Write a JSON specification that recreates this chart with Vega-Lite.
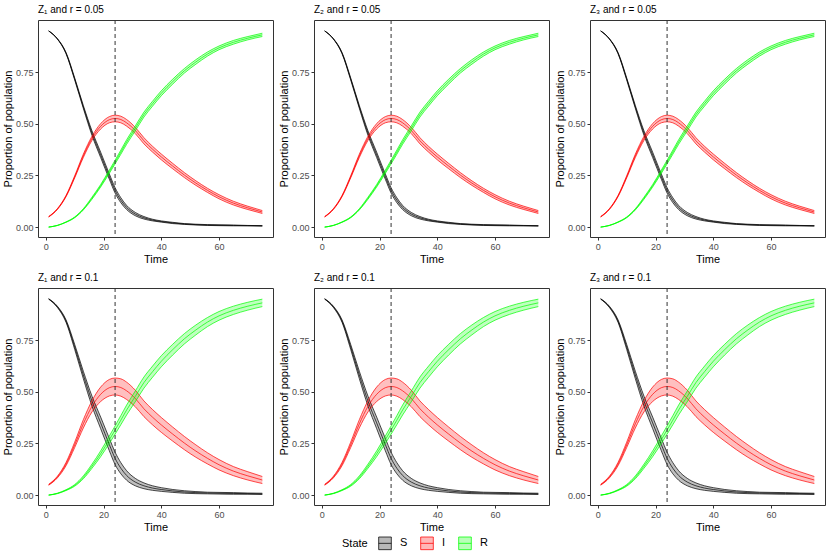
{
  "$schema": "https://vega.github.io/schema/vega-lite/v6.json",
  "background": "white",
  "padding": {"left": 1, "top": 4, "right": 3, "bottom": 2},
  "datasets": {
    "r05": [
      {"t": 1, "state": "S", "lo": 0.950, "mid": 0.950, "hi": 0.950},
      {"t": 4, "state": "S", "lo": 0.911, "mid": 0.912, "hi": 0.913},
      {"t": 7, "state": "S", "lo": 0.840, "mid": 0.843, "hi": 0.846},
      {"t": 10, "state": "S", "lo": 0.713, "mid": 0.718, "hi": 0.723},
      {"t": 13, "state": "S", "lo": 0.575, "mid": 0.582, "hi": 0.589},
      {"t": 16, "state": "S", "lo": 0.444, "mid": 0.455, "hi": 0.466},
      {"t": 19, "state": "S", "lo": 0.337, "mid": 0.350, "hi": 0.363},
      {"t": 22, "state": "S", "lo": 0.232, "mid": 0.245, "hi": 0.258},
      {"t": 24, "state": "S", "lo": 0.165, "mid": 0.178, "hi": 0.191},
      {"t": 26, "state": "S", "lo": 0.118, "mid": 0.130, "hi": 0.142},
      {"t": 28, "state": "S", "lo": 0.085, "mid": 0.095, "hi": 0.105},
      {"t": 31, "state": "S", "lo": 0.055, "mid": 0.063, "hi": 0.071},
      {"t": 34, "state": "S", "lo": 0.039, "mid": 0.045, "hi": 0.051},
      {"t": 37, "state": "S", "lo": 0.030, "mid": 0.034, "hi": 0.038},
      {"t": 40, "state": "S", "lo": 0.024, "mid": 0.027, "hi": 0.030},
      {"t": 44, "state": "S", "lo": 0.017, "mid": 0.020, "hi": 0.023},
      {"t": 48, "state": "S", "lo": 0.013, "mid": 0.015, "hi": 0.017},
      {"t": 52, "state": "S", "lo": 0.010, "mid": 0.012, "hi": 0.014},
      {"t": 56, "state": "S", "lo": 0.008, "mid": 0.010, "hi": 0.012},
      {"t": 60, "state": "S", "lo": 0.007, "mid": 0.009, "hi": 0.011},
      {"t": 65, "state": "S", "lo": 0.006, "mid": 0.008, "hi": 0.010},
      {"t": 70, "state": "S", "lo": 0.006, "mid": 0.007, "hi": 0.008},
      {"t": 75, "state": "S", "lo": 0.005, "mid": 0.006, "hi": 0.007},
      {"t": 1, "state": "I", "lo": 0.049, "mid": 0.050, "hi": 0.051},
      {"t": 4, "state": "I", "lo": 0.085, "mid": 0.087, "hi": 0.089},
      {"t": 7, "state": "I", "lo": 0.147, "mid": 0.150, "hi": 0.153},
      {"t": 10, "state": "I", "lo": 0.238, "mid": 0.243, "hi": 0.248},
      {"t": 13, "state": "I", "lo": 0.337, "mid": 0.345, "hi": 0.353},
      {"t": 16, "state": "I", "lo": 0.420, "mid": 0.430, "hi": 0.440},
      {"t": 19, "state": "I", "lo": 0.475, "mid": 0.488, "hi": 0.501},
      {"t": 22, "state": "I", "lo": 0.505, "mid": 0.520, "hi": 0.535},
      {"t": 24, "state": "I", "lo": 0.510, "mid": 0.526, "hi": 0.542},
      {"t": 26, "state": "I", "lo": 0.505, "mid": 0.521, "hi": 0.537},
      {"t": 28, "state": "I", "lo": 0.489, "mid": 0.505, "hi": 0.521},
      {"t": 31, "state": "I", "lo": 0.453, "mid": 0.468, "hi": 0.483},
      {"t": 34, "state": "I", "lo": 0.403, "mid": 0.418, "hi": 0.433},
      {"t": 37, "state": "I", "lo": 0.363, "mid": 0.377, "hi": 0.391},
      {"t": 40, "state": "I", "lo": 0.326, "mid": 0.340, "hi": 0.354},
      {"t": 44, "state": "I", "lo": 0.282, "mid": 0.295, "hi": 0.308},
      {"t": 48, "state": "I", "lo": 0.240, "mid": 0.252, "hi": 0.264},
      {"t": 52, "state": "I", "lo": 0.202, "mid": 0.213, "hi": 0.224},
      {"t": 56, "state": "I", "lo": 0.168, "mid": 0.178, "hi": 0.188},
      {"t": 60, "state": "I", "lo": 0.137, "mid": 0.147, "hi": 0.157},
      {"t": 65, "state": "I", "lo": 0.107, "mid": 0.116, "hi": 0.125},
      {"t": 70, "state": "I", "lo": 0.085, "mid": 0.093, "hi": 0.101},
      {"t": 75, "state": "I", "lo": 0.066, "mid": 0.073, "hi": 0.080},
      {"t": 1, "state": "R", "lo": 0.000, "mid": 0.000, "hi": 0.000},
      {"t": 4, "state": "R", "lo": 0.008, "mid": 0.008, "hi": 0.008},
      {"t": 7, "state": "R", "lo": 0.023, "mid": 0.024, "hi": 0.025},
      {"t": 10, "state": "R", "lo": 0.045, "mid": 0.047, "hi": 0.049},
      {"t": 13, "state": "R", "lo": 0.083, "mid": 0.086, "hi": 0.089},
      {"t": 16, "state": "R", "lo": 0.135, "mid": 0.140, "hi": 0.145},
      {"t": 19, "state": "R", "lo": 0.194, "mid": 0.200, "hi": 0.206},
      {"t": 22, "state": "R", "lo": 0.260, "mid": 0.268, "hi": 0.276},
      {"t": 24, "state": "R", "lo": 0.306, "mid": 0.315, "hi": 0.324},
      {"t": 26, "state": "R", "lo": 0.353, "mid": 0.363, "hi": 0.373},
      {"t": 28, "state": "R", "lo": 0.401, "mid": 0.412, "hi": 0.423},
      {"t": 31, "state": "R", "lo": 0.466, "mid": 0.478, "hi": 0.490},
      {"t": 34, "state": "R", "lo": 0.533, "mid": 0.545, "hi": 0.557},
      {"t": 37, "state": "R", "lo": 0.586, "mid": 0.598, "hi": 0.610},
      {"t": 40, "state": "R", "lo": 0.636, "mid": 0.648, "hi": 0.660},
      {"t": 44, "state": "R", "lo": 0.693, "mid": 0.705, "hi": 0.717},
      {"t": 48, "state": "R", "lo": 0.746, "mid": 0.757, "hi": 0.768},
      {"t": 52, "state": "R", "lo": 0.789, "mid": 0.800, "hi": 0.811},
      {"t": 56, "state": "R", "lo": 0.828, "mid": 0.838, "hi": 0.848},
      {"t": 60, "state": "R", "lo": 0.859, "mid": 0.868, "hi": 0.877},
      {"t": 65, "state": "R", "lo": 0.886, "mid": 0.895, "hi": 0.904},
      {"t": 70, "state": "R", "lo": 0.907, "mid": 0.915, "hi": 0.923},
      {"t": 75, "state": "R", "lo": 0.923, "mid": 0.931, "hi": 0.939}
    ],
    "r10": [
      {"t": 1, "state": "S", "lo": 0.949, "mid": 0.950, "hi": 0.951},
      {"t": 4, "state": "S", "lo": 0.909, "mid": 0.912, "hi": 0.915},
      {"t": 7, "state": "S", "lo": 0.837, "mid": 0.843, "hi": 0.849},
      {"t": 10, "state": "S", "lo": 0.706, "mid": 0.718, "hi": 0.730},
      {"t": 13, "state": "S", "lo": 0.564, "mid": 0.582, "hi": 0.600},
      {"t": 16, "state": "S", "lo": 0.431, "mid": 0.455, "hi": 0.479},
      {"t": 19, "state": "S", "lo": 0.322, "mid": 0.350, "hi": 0.378},
      {"t": 22, "state": "S", "lo": 0.215, "mid": 0.245, "hi": 0.275},
      {"t": 24, "state": "S", "lo": 0.148, "mid": 0.178, "hi": 0.208},
      {"t": 26, "state": "S", "lo": 0.103, "mid": 0.130, "hi": 0.157},
      {"t": 28, "state": "S", "lo": 0.072, "mid": 0.095, "hi": 0.118},
      {"t": 31, "state": "S", "lo": 0.045, "mid": 0.063, "hi": 0.081},
      {"t": 34, "state": "S", "lo": 0.031, "mid": 0.045, "hi": 0.059},
      {"t": 37, "state": "S", "lo": 0.023, "mid": 0.034, "hi": 0.045},
      {"t": 40, "state": "S", "lo": 0.018, "mid": 0.027, "hi": 0.036},
      {"t": 44, "state": "S", "lo": 0.013, "mid": 0.020, "hi": 0.027},
      {"t": 48, "state": "S", "lo": 0.009, "mid": 0.015, "hi": 0.021},
      {"t": 52, "state": "S", "lo": 0.007, "mid": 0.012, "hi": 0.017},
      {"t": 56, "state": "S", "lo": 0.006, "mid": 0.010, "hi": 0.014},
      {"t": 60, "state": "S", "lo": 0.005, "mid": 0.009, "hi": 0.013},
      {"t": 65, "state": "S", "lo": 0.004, "mid": 0.008, "hi": 0.012},
      {"t": 70, "state": "S", "lo": 0.004, "mid": 0.007, "hi": 0.010},
      {"t": 75, "state": "S", "lo": 0.003, "mid": 0.006, "hi": 0.009},
      {"t": 1, "state": "I", "lo": 0.048, "mid": 0.050, "hi": 0.052},
      {"t": 4, "state": "I", "lo": 0.083, "mid": 0.087, "hi": 0.091},
      {"t": 7, "state": "I", "lo": 0.142, "mid": 0.150, "hi": 0.158},
      {"t": 10, "state": "I", "lo": 0.230, "mid": 0.243, "hi": 0.256},
      {"t": 13, "state": "I", "lo": 0.325, "mid": 0.345, "hi": 0.365},
      {"t": 16, "state": "I", "lo": 0.403, "mid": 0.430, "hi": 0.457},
      {"t": 19, "state": "I", "lo": 0.453, "mid": 0.488, "hi": 0.523},
      {"t": 22, "state": "I", "lo": 0.480, "mid": 0.520, "hi": 0.560},
      {"t": 24, "state": "I", "lo": 0.485, "mid": 0.526, "hi": 0.567},
      {"t": 26, "state": "I", "lo": 0.479, "mid": 0.521, "hi": 0.563},
      {"t": 28, "state": "I", "lo": 0.463, "mid": 0.505, "hi": 0.547},
      {"t": 31, "state": "I", "lo": 0.428, "mid": 0.468, "hi": 0.508},
      {"t": 34, "state": "I", "lo": 0.380, "mid": 0.418, "hi": 0.456},
      {"t": 37, "state": "I", "lo": 0.340, "mid": 0.377, "hi": 0.414},
      {"t": 40, "state": "I", "lo": 0.304, "mid": 0.340, "hi": 0.376},
      {"t": 44, "state": "I", "lo": 0.261, "mid": 0.295, "hi": 0.329},
      {"t": 48, "state": "I", "lo": 0.220, "mid": 0.252, "hi": 0.284},
      {"t": 52, "state": "I", "lo": 0.183, "mid": 0.213, "hi": 0.243},
      {"t": 56, "state": "I", "lo": 0.151, "mid": 0.178, "hi": 0.205},
      {"t": 60, "state": "I", "lo": 0.122, "mid": 0.147, "hi": 0.172},
      {"t": 65, "state": "I", "lo": 0.094, "mid": 0.116, "hi": 0.138},
      {"t": 70, "state": "I", "lo": 0.073, "mid": 0.093, "hi": 0.113},
      {"t": 75, "state": "I", "lo": 0.056, "mid": 0.073, "hi": 0.090},
      {"t": 1, "state": "R", "lo": 0.000, "mid": 0.000, "hi": 0.000},
      {"t": 4, "state": "R", "lo": 0.007, "mid": 0.008, "hi": 0.009},
      {"t": 7, "state": "R", "lo": 0.022, "mid": 0.024, "hi": 0.026},
      {"t": 10, "state": "R", "lo": 0.043, "mid": 0.047, "hi": 0.051},
      {"t": 13, "state": "R", "lo": 0.079, "mid": 0.086, "hi": 0.093},
      {"t": 16, "state": "R", "lo": 0.130, "mid": 0.140, "hi": 0.150},
      {"t": 19, "state": "R", "lo": 0.186, "mid": 0.200, "hi": 0.214},
      {"t": 22, "state": "R", "lo": 0.250, "mid": 0.268, "hi": 0.286},
      {"t": 24, "state": "R", "lo": 0.295, "mid": 0.315, "hi": 0.335},
      {"t": 26, "state": "R", "lo": 0.341, "mid": 0.363, "hi": 0.385},
      {"t": 28, "state": "R", "lo": 0.388, "mid": 0.412, "hi": 0.436},
      {"t": 31, "state": "R", "lo": 0.452, "mid": 0.478, "hi": 0.504},
      {"t": 34, "state": "R", "lo": 0.518, "mid": 0.545, "hi": 0.572},
      {"t": 37, "state": "R", "lo": 0.571, "mid": 0.598, "hi": 0.625},
      {"t": 40, "state": "R", "lo": 0.621, "mid": 0.648, "hi": 0.675},
      {"t": 44, "state": "R", "lo": 0.679, "mid": 0.705, "hi": 0.731},
      {"t": 48, "state": "R", "lo": 0.732, "mid": 0.757, "hi": 0.782},
      {"t": 52, "state": "R", "lo": 0.776, "mid": 0.800, "hi": 0.824},
      {"t": 56, "state": "R", "lo": 0.816, "mid": 0.838, "hi": 0.860},
      {"t": 60, "state": "R", "lo": 0.847, "mid": 0.868, "hi": 0.889},
      {"t": 65, "state": "R", "lo": 0.875, "mid": 0.895, "hi": 0.915},
      {"t": 70, "state": "R", "lo": 0.896, "mid": 0.915, "hi": 0.934},
      {"t": 75, "state": "R", "lo": 0.913, "mid": 0.931, "hi": 0.949}
    ],
    "vline": [{"t": 24}]
  },
  "columns": 3,
  "spacing": {"column": 3, "row": 7},
  "concat": [
    {
      "title": "Z₁ and r = 0.05",
      "width": 235, "height": 217,
      "data": {"name": "r05"},
      "layer": [
        {
          "mark": {"type": "area", "fillOpacity": 0.25, "interpolate": "monotone"},
          "encoding": {
            "x": {"field": "t", "type": "quantitative", "title": "Time", "scale": {"domain": [-2.7, 78.7], "nice": false, "zero": false}, "axis": {"values": [0, 20, 40, 60]}},
            "y": {"field": "lo", "type": "quantitative", "title": "Proportion of population", "scale": {"domain": [-0.048, 1.003], "nice": false, "zero": false}, "axis": {"values": [0, 0.25, 0.5, 0.75], "format": ".2f"}},
            "y2": {"field": "hi"},
            "color": {
              "field": "state", "type": "nominal", "title": "State",
              "scale": {"domain": ["S", "I", "R"], "range": ["#000000", "#ff0000", "#00ff00"]},
              "legend": {
                "symbolType": "M-1,-1H1V1H-1ZM-1,0H1",
                "encode": {
                  "symbols": {
                    "update": {
                      "shape": {"value": "M-1,-1H1V1H-1ZM-1,0H1"},
                      "fill": {"scale": "color", "field": "value"},
                      "fillOpacity": {"value": 0.28},
                      "stroke": {"scale": "color", "field": "value"},
                      "strokeOpacity": {"value": 0.75},
                      "strokeWidth": {"value": 1},
                      "opacity": {"value": 1}
                    }
                  }
                }
              }
            }
          }
        },
        {
          "transform": [{"fold": ["lo", "mid", "hi"], "as": ["k", "v"]}],
          "mark": {"type": "line", "strokeWidth": 0.7, "interpolate": "monotone"},
          "encoding": {
            "x": {"field": "t", "type": "quantitative"},
            "y": {"field": "v", "type": "quantitative"},
            "color": {"field": "state", "type": "nominal", "title": "State"},
            "detail": {"field": "k"}
          }
        },
        {
          "data": {"name": "vline"},
          "mark": {"type": "rule", "color": "#333333", "strokeDash": [4, 3], "strokeWidth": 1},
          "encoding": {"x": {"field": "t", "type": "quantitative"}}
        }
      ]
    },
    {
      "title": "Z₂ and r = 0.05",
      "width": 235, "height": 217,
      "data": {"name": "r05"},
      "layer": [
        {
          "mark": {"type": "area", "fillOpacity": 0.25, "interpolate": "monotone"},
          "encoding": {
            "x": {"field": "t", "type": "quantitative", "title": "Time", "scale": {"domain": [-2.7, 78.7], "nice": false, "zero": false}, "axis": {"values": [0, 20, 40, 60]}},
            "y": {"field": "lo", "type": "quantitative", "title": "Proportion of population", "scale": {"domain": [-0.048, 1.003], "nice": false, "zero": false}, "axis": {"values": [0, 0.25, 0.5, 0.75], "format": ".2f"}},
            "y2": {"field": "hi"},
            "color": {"field": "state", "type": "nominal", "title": "State"}
          }
        },
        {
          "transform": [{"fold": ["lo", "mid", "hi"], "as": ["k", "v"]}],
          "mark": {"type": "line", "strokeWidth": 0.7, "interpolate": "monotone"},
          "encoding": {
            "x": {"field": "t", "type": "quantitative"},
            "y": {"field": "v", "type": "quantitative"},
            "color": {"field": "state", "type": "nominal", "title": "State"},
            "detail": {"field": "k"}
          }
        },
        {
          "data": {"name": "vline"},
          "mark": {"type": "rule", "color": "#333333", "strokeDash": [4, 3], "strokeWidth": 1},
          "encoding": {"x": {"field": "t", "type": "quantitative"}}
        }
      ]
    },
    {
      "title": "Z₃ and r = 0.05",
      "width": 235, "height": 217,
      "data": {"name": "r05"},
      "layer": [
        {
          "mark": {"type": "area", "fillOpacity": 0.25, "interpolate": "monotone"},
          "encoding": {
            "x": {"field": "t", "type": "quantitative", "title": "Time", "scale": {"domain": [-2.7, 78.7], "nice": false, "zero": false}, "axis": {"values": [0, 20, 40, 60]}},
            "y": {"field": "lo", "type": "quantitative", "title": "Proportion of population", "scale": {"domain": [-0.048, 1.003], "nice": false, "zero": false}, "axis": {"values": [0, 0.25, 0.5, 0.75], "format": ".2f"}},
            "y2": {"field": "hi"},
            "color": {"field": "state", "type": "nominal", "title": "State"}
          }
        },
        {
          "transform": [{"fold": ["lo", "mid", "hi"], "as": ["k", "v"]}],
          "mark": {"type": "line", "strokeWidth": 0.7, "interpolate": "monotone"},
          "encoding": {
            "x": {"field": "t", "type": "quantitative"},
            "y": {"field": "v", "type": "quantitative"},
            "color": {"field": "state", "type": "nominal", "title": "State"},
            "detail": {"field": "k"}
          }
        },
        {
          "data": {"name": "vline"},
          "mark": {"type": "rule", "color": "#333333", "strokeDash": [4, 3], "strokeWidth": 1},
          "encoding": {"x": {"field": "t", "type": "quantitative"}}
        }
      ]
    },
    {
      "title": "Z₁ and r = 0.1",
      "width": 235, "height": 217,
      "data": {"name": "r10"},
      "layer": [
        {
          "mark": {"type": "area", "fillOpacity": 0.25, "interpolate": "monotone"},
          "encoding": {
            "x": {"field": "t", "type": "quantitative", "title": "Time", "scale": {"domain": [-2.7, 78.7], "nice": false, "zero": false}, "axis": {"values": [0, 20, 40, 60]}},
            "y": {"field": "lo", "type": "quantitative", "title": "Proportion of population", "scale": {"domain": [-0.048, 1.003], "nice": false, "zero": false}, "axis": {"values": [0, 0.25, 0.5, 0.75], "format": ".2f"}},
            "y2": {"field": "hi"},
            "color": {"field": "state", "type": "nominal", "title": "State"}
          }
        },
        {
          "transform": [{"fold": ["lo", "mid", "hi"], "as": ["k", "v"]}],
          "mark": {"type": "line", "strokeWidth": 0.7, "interpolate": "monotone"},
          "encoding": {
            "x": {"field": "t", "type": "quantitative"},
            "y": {"field": "v", "type": "quantitative"},
            "color": {"field": "state", "type": "nominal", "title": "State"},
            "detail": {"field": "k"}
          }
        },
        {
          "data": {"name": "vline"},
          "mark": {"type": "rule", "color": "#333333", "strokeDash": [4, 3], "strokeWidth": 1},
          "encoding": {"x": {"field": "t", "type": "quantitative"}}
        }
      ]
    },
    {
      "title": "Z₂ and r = 0.1",
      "width": 235, "height": 217,
      "data": {"name": "r10"},
      "layer": [
        {
          "mark": {"type": "area", "fillOpacity": 0.25, "interpolate": "monotone"},
          "encoding": {
            "x": {"field": "t", "type": "quantitative", "title": "Time", "scale": {"domain": [-2.7, 78.7], "nice": false, "zero": false}, "axis": {"values": [0, 20, 40, 60]}},
            "y": {"field": "lo", "type": "quantitative", "title": "Proportion of population", "scale": {"domain": [-0.048, 1.003], "nice": false, "zero": false}, "axis": {"values": [0, 0.25, 0.5, 0.75], "format": ".2f"}},
            "y2": {"field": "hi"},
            "color": {"field": "state", "type": "nominal", "title": "State"}
          }
        },
        {
          "transform": [{"fold": ["lo", "mid", "hi"], "as": ["k", "v"]}],
          "mark": {"type": "line", "strokeWidth": 0.7, "interpolate": "monotone"},
          "encoding": {
            "x": {"field": "t", "type": "quantitative"},
            "y": {"field": "v", "type": "quantitative"},
            "color": {"field": "state", "type": "nominal", "title": "State"},
            "detail": {"field": "k"}
          }
        },
        {
          "data": {"name": "vline"},
          "mark": {"type": "rule", "color": "#333333", "strokeDash": [4, 3], "strokeWidth": 1},
          "encoding": {"x": {"field": "t", "type": "quantitative"}}
        }
      ]
    },
    {
      "title": "Z₃ and r = 0.1",
      "width": 235, "height": 217,
      "data": {"name": "r10"},
      "layer": [
        {
          "mark": {"type": "area", "fillOpacity": 0.25, "interpolate": "monotone"},
          "encoding": {
            "x": {"field": "t", "type": "quantitative", "title": "Time", "scale": {"domain": [-2.7, 78.7], "nice": false, "zero": false}, "axis": {"values": [0, 20, 40, 60]}},
            "y": {"field": "lo", "type": "quantitative", "title": "Proportion of population", "scale": {"domain": [-0.048, 1.003], "nice": false, "zero": false}, "axis": {"values": [0, 0.25, 0.5, 0.75], "format": ".2f"}},
            "y2": {"field": "hi"},
            "color": {"field": "state", "type": "nominal", "title": "State"}
          }
        },
        {
          "transform": [{"fold": ["lo", "mid", "hi"], "as": ["k", "v"]}],
          "mark": {"type": "line", "strokeWidth": 0.7, "interpolate": "monotone"},
          "encoding": {
            "x": {"field": "t", "type": "quantitative"},
            "y": {"field": "v", "type": "quantitative"},
            "color": {"field": "state", "type": "nominal", "title": "State"},
            "detail": {"field": "k"}
          }
        },
        {
          "data": {"name": "vline"},
          "mark": {"type": "rule", "color": "#333333", "strokeDash": [4, 3], "strokeWidth": 1},
          "encoding": {"x": {"field": "t", "type": "quantitative"}}
        }
      ]
    }
  ],
  "resolve": {"scale": {"color": "shared"}},
  "config": {
    "font": "Liberation Sans",
    "view": {"stroke": "#333333", "strokeWidth": 1},
    "axis": {
      "grid": false, "domain": false, "ticks": true, "tickColor": "#333333", "tickSize": 3,
      "labelColor": "#4d4d4d", "labelFontSize": 9, "labelPadding": 2,
      "titleFontSize": 11, "titleFontWeight": "normal", "titleColor": "#000000", "titlePadding": 2
    },
    "title": {"anchor": "start", "frame": "group", "fontSize": 10, "fontWeight": "normal", "color": "#000000", "offset": 5},
    "legend": {
      "orient": "none", "legendX": 304, "legendY": 516, "direction": "horizontal", "titleOrient": "left",
      "titleFontSize": 11, "titleFontWeight": "normal", "titleColor": "#000000", "titlePadding": 10,
      "labelFontSize": 11, "labelColor": "#000000", "labelOffset": 8, "columnPadding": 10,
      "symbolSize": 160, "symbolStrokeWidth": 1
    }
  }
}
